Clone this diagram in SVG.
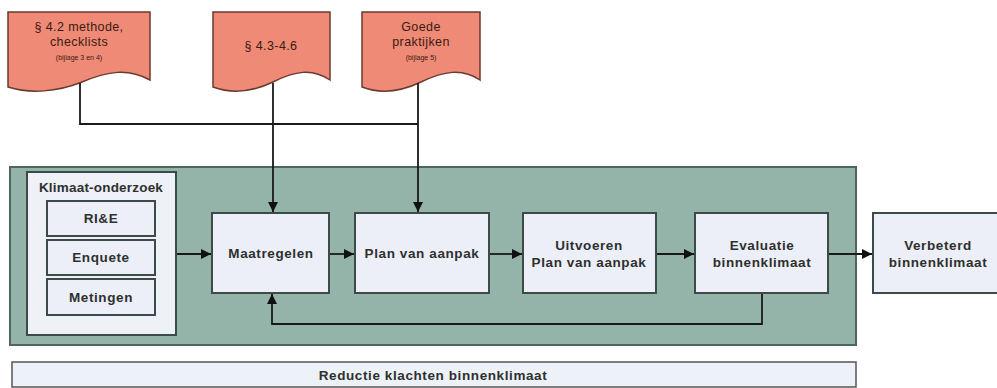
<svg xmlns="http://www.w3.org/2000/svg" width="997" height="388" viewBox="0 0 997 388">
<defs>
<marker id="ah" viewBox="0 0 10 10" refX="10" refY="5" markerWidth="10" markerHeight="10" markerUnits="userSpaceOnUse" orient="auto">
<path d="M0,0 L10,5 L0,10 Z" fill="#111"/>
</marker>
<style>
.doc{fill:#ef8a76;stroke:#6b3a30;stroke-width:1.5}
.dt{font-family:"Liberation Sans",Arial,sans-serif;font-size:12.5px;fill:#3a1a12;text-anchor:middle;letter-spacing:0.4px}
.ds{font-family:"Liberation Sans",Arial,sans-serif;font-size:7px;fill:#3a1a12;text-anchor:middle}
.box{fill:#eceff7;stroke:#3c4a48;stroke-width:2}
.bt{font-family:"Liberation Sans",Arial,sans-serif;font-size:13.5px;font-weight:bold;fill:#2e3030;text-anchor:middle;letter-spacing:0.6px}
.ln{fill:none;stroke:#1a1a1a;stroke-width:1.8}
</style>
</defs>
<rect width="997" height="388" fill="#ffffff"/>

<g id="container">
<rect x="10" y="167" width="846" height="178" fill="#94b4a9" stroke="#4d6660" stroke-width="2"/>
</g>

<g id="reductie">
<rect x="12" y="362" width="844" height="25" fill="#edf1f8" stroke="#555" stroke-width="1.5"/>
<text class="bt" x="433" y="380">Reductie klachten binnenklimaat</text>
</g>

<g id="doc1">
<path class="doc" d="M8,12 H150 V80 C128,68 108,71 82,82 C57,92 30,94 8,87 Z"/>
<text class="dt" x="79" y="31">§ 4.2 methode,</text>
<text class="dt" x="79" y="46">checklists</text>
<text class="ds" x="79" y="60">(bijlage 3 en 4)</text>
</g>
<g id="doc2">
<path class="doc" d="M213,12 H330 V80 C312,68 295,71 273,82 C252,92 232,94 213,87 Z"/>
<text class="dt" x="271" y="50">§ 4.3-4.6</text>
</g>
<g id="doc3">
<path class="doc" d="M362,12 H480 V80 C462,68 444,71 421,82 C400,92 380,94 362,87 Z"/>
<text class="dt" x="421" y="31">Goede</text>
<text class="dt" x="421" y="46">praktijken</text>
<text class="ds" x="421" y="60">(bijlage 5)</text>
</g>

<g id="klimaat">
<rect x="27" y="172" width="149" height="163" fill="#eef1f8" stroke="#3c4a48" stroke-width="2"/>
<text class="bt" x="101" y="192" style="letter-spacing:0.2px">Klimaat-onderzoek</text>
</g>
<g id="rie">
<rect class="box" x="47" y="201" width="108" height="35"/>
<text class="bt" x="101" y="223">RI&amp;E</text>
</g>
<g id="enquete">
<rect class="box" x="47" y="240" width="108" height="35"/>
<text class="bt" x="101" y="262">Enquete</text>
</g>
<g id="metingen">
<rect class="box" x="47" y="279" width="108" height="36"/>
<text class="bt" x="101" y="302">Metingen</text>
</g>

<g id="maatregelen">
<rect class="box" x="212" y="213" width="117" height="80"/>
<text class="bt" x="271" y="258">Maatregelen</text>
</g>
<g id="plan">
<rect class="box" x="355" y="213" width="134" height="80"/>
<text class="bt" x="422" y="258">Plan van aanpak</text>
</g>
<g id="uitvoeren">
<rect class="box" x="523" y="213" width="133" height="80"/>
<text class="bt" x="589" y="250">Uitvoeren</text>
<text class="bt" x="589" y="267">Plan van aanpak</text>
</g>
<g id="evaluatie">
<rect class="box" x="695" y="213" width="133" height="80"/>
<text class="bt" x="762" y="250">Evaluatie</text>
<text class="bt" x="762" y="267">binnenklimaat</text>
</g>
<g id="verbeterd">
<rect class="box" x="873" y="213" width="130" height="80"/>
<text class="bt" x="938" y="250">Verbeterd</text>
<text class="bt" x="938" y="267">binnenklimaat</text>
</g>

<g id="connectors">
<path class="ln" d="M80,83 V124 H418"/>
<path class="ln" d="M273,83 V212" marker-end="url(#ah)"/>
<path class="ln" d="M418,83 V212" marker-end="url(#ah)"/>
<path class="ln" d="M177,254 H211" marker-end="url(#ah)"/>
<path class="ln" d="M330,254 H354" marker-end="url(#ah)"/>
<path class="ln" d="M490,254 H522" marker-end="url(#ah)"/>
<path class="ln" d="M657,254 H694" marker-end="url(#ah)"/>
<path class="ln" d="M829,254 H872" marker-end="url(#ah)"/>
<path class="ln" d="M762,294 V324 H272 V294" stroke="#2d3b38" marker-end="url(#ah)"/>
</g>
</svg>
